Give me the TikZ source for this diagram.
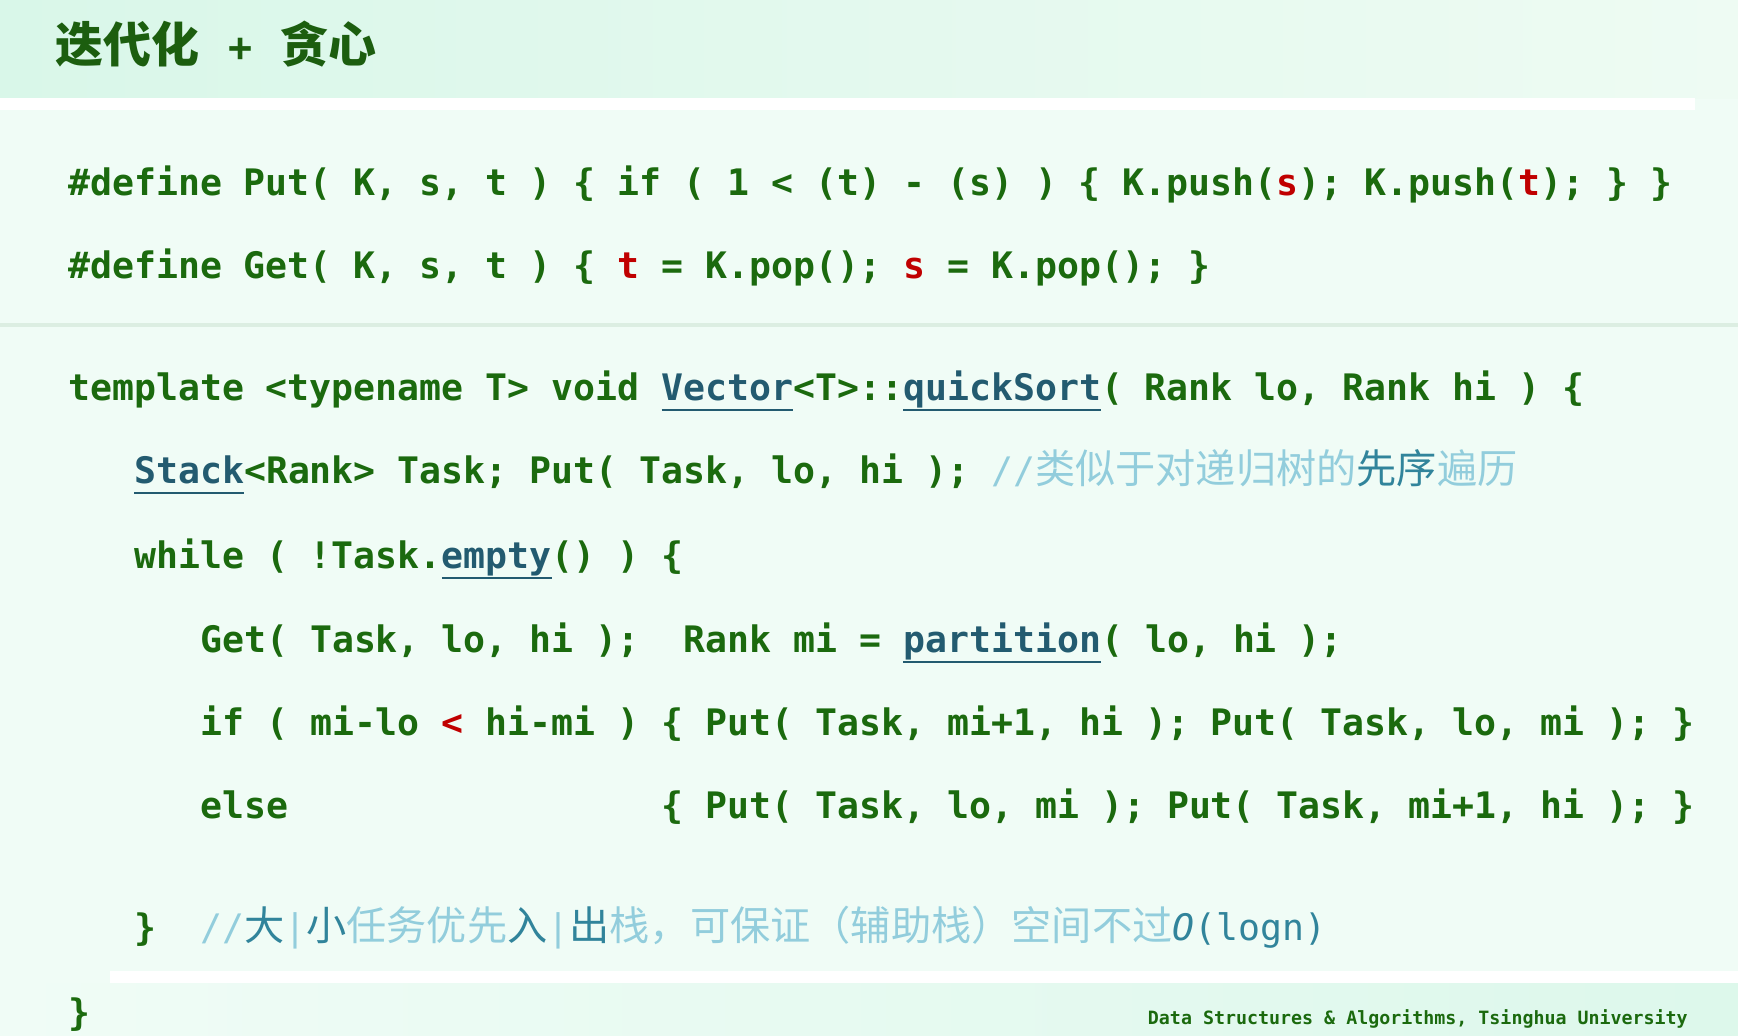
\documentclass[tikz,border=0pt]{standalone}
\usepackage{fontspec}
\newfontfamily\codefont{DejaVu Sans Mono}
\newfontfamily\cjk{Noto Sans CJK SC}
\definecolor{codeg}{HTML}{1B6A0E}
\definecolor{titleg}{HTML}{1C5E0F}
\definecolor{redc}{HTML}{C00000}
\definecolor{linkc}{HTML}{235B70}
\definecolor{cmtl}{HTML}{92CDDC}
\definecolor{cmtd}{HTML}{31849B}
\definecolor{bgc}{HTML}{F0FCF6}
\definecolor{bandl}{HTML}{D9F7E9}
\definecolor{bandr}{HTML}{EEFBF3}
\definecolor{sepc}{HTML}{DCEEE2}
\newsavebox\ulbox
\newcommand\linku[1]{\sbox\ulbox{#1}\textcolor{linkc}{\rlap{\rule[-11pt]{\wd\ulbox}{2.5pt}}#1}}
\newcommand\R[1]{\textcolor{redc}{#1}}
\newcommand\CL[1]{\textcolor{cmtl}{#1}}
\newcommand\CD[1]{\textcolor{cmtd}{#1}}
\newcommand\cjkc{\cjk\mdseries\fontsize{40.2}{48}\selectfont}
\newcommand\slashc{\textcolor{cmtl}{\mdseries //}}
\newcommand\barc{\textcolor{cmtl}{\mdseries |}}
\tikzset{
  code/.style={anchor=base west, inner sep=0pt, text=codeg,
    font=\codefont\bfseries\fontsize{36.5}{40}\selectfont},
}
\begin{document}
\begin{tikzpicture}[x=1pt,y=-1pt]
\useasboundingbox (0,0) rectangle (1738,1036);
% backgrounds
\fill[bgc] (0,0) rectangle (1738,1036);
\shade[left color=bandl, right color=bandr] (0,0) rectangle (1738,98);
\fill[white] (0,98) rectangle (1695,110);
\fill[sepc] (0,323) rectangle (1738,327);
\fill[white] (110,971) rectangle (1738,983);
\shade[left color=bgc, right color=bandl!90!white] (0,983) rectangle (1738,1036);
% title
\node[anchor=base west, inner sep=0pt, text=titleg] (title) at (55,62)
  {{\cjk\bfseries\fontsize{48}{52}\selectfont 迭代化}\hspace{29pt}\raisebox{1pt}{\codefont\bfseries\fontsize{40}{44}\selectfont +}\hspace{28pt}{\cjk\bfseries\fontsize{48}{52}\selectfont 贪心}};
% macros
\node[code] (l1) at (68,195) {\#define~Put(~K,~s,~t~)~\{~if~(~1~<~(t)~-~(s)~)~\{~K.push(\R{s});~K.push(\R{t});~\}~\}};
\node[code] (l2) at (68,278) {\#define~Get(~K,~s,~t~)~\{~\R{t}~=~K.pop();~\R{s}~=~K.pop();~\}};
% function
\node[code] (l3) at (68,400) {template~<typename~T>~void~\linku{Vector}<T>::\linku{quickSort}(~Rank~lo,~Rank~hi~)~\{};
\node[code] (l4) at (134,483) {\linku{Stack}<Rank>~Task;~Put(~Task,~lo,~hi~);~\slashc{\cjkc\CL{类似于对递归树的}\CD{先序}\CL{遍历}}};
\node[code] (l5) at (134,568) {while~(~!Task.\linku{empty}()~)~\{};
\node[code] (l6) at (200,652) {Get(~Task,~lo,~hi~);~~Rank~mi~=~\linku{partition}(~lo,~hi~);};
\node[code] (l7) at (200,735) {if~(~mi-lo~\R{<}~hi-mi~)~\{~Put(~Task,~mi+1,~hi~);~Put(~Task,~lo,~mi~);~\}};
\node[code] (l8) at (200,818) {else~~~~~~~~~~~~~~~~~\{~Put(~Task,~lo,~mi~);~Put(~Task,~mi+1,~hi~);~\}};
\node[code] (l9) at (134,940) {\}~~\slashc{\cjkc\CD{大}}\barc{\cjkc\CD{小}\CL{任务优先}\CD{入}}\barc{\cjkc\CD{出}\CL{栈，可保证（辅助栈）空间不过}}\textcolor{cmtd}{\mdseries\itshape O\upshape(logn)}};
\node[code] (l10) at (68,1025) {\}};
% footer
\node[anchor=base east, inner sep=0pt, text=codeg, font=\codefont\bfseries\fontsize{18.3}{20}\selectfont] (foot) at (1688,1024) {Data~Structures~\&~Algorithms,~Tsinghua~University};
\end{tikzpicture}
\end{document}
